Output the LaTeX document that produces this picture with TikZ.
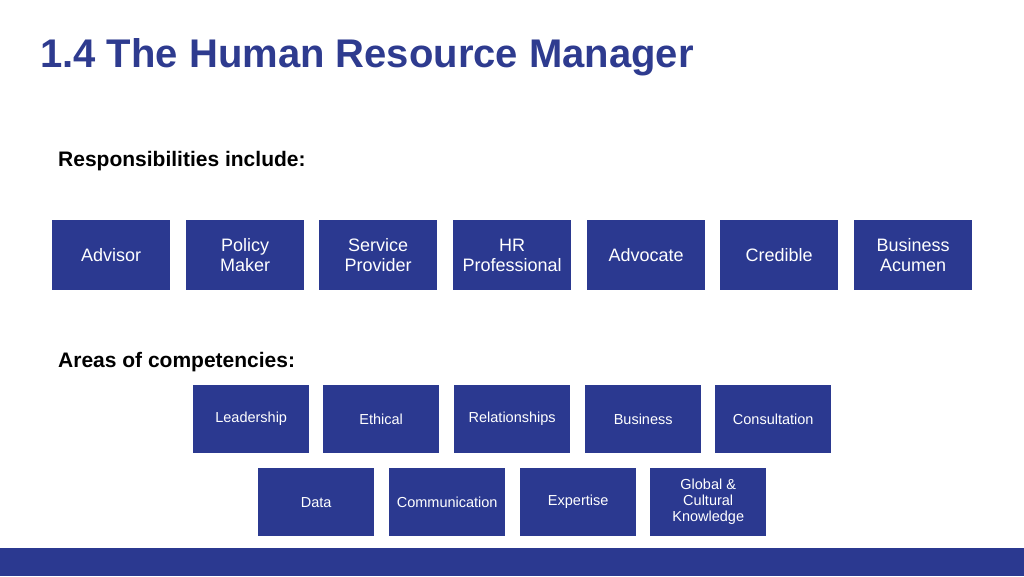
\documentclass[tikz,border=0pt]{standalone}
\usepackage{fontspec}
\setmainfont{Liberation Sans}
\usetikzlibrary{positioning}
\definecolor{hrblue}{RGB}{43,57,144}
\definecolor{titleblue}{RGB}{46,59,143}

\begin{document}
\begin{tikzpicture}[x=1pt, y=-1pt,
  rolebox/.style = {fill = hrblue, text = white, anchor = north west, minimum width = 118pt, minimum height = 70pt, inner sep = 0pt, align = center, font = \fontsize{18}{20}\selectfont},
  skillbox/.style = {fill = hrblue, text = white, anchor = north west, minimum width = 116pt, minimum height = 68pt, inner sep = 0pt, align = center, font = \fontsize{14.5}{16}\selectfont},
  heading/.style = {anchor = west, inner sep = 0pt, font = \bfseries\fontsize{21}{24}\selectfont}]
  \useasboundingbox (0,0) rectangle (1024,576);
  \node[anchor = west, inner sep = 0pt, text = titleblue, font = \bfseries\fontsize{40}{44}\selectfont] (title) at (40,57) {1.4 The Human Resource Manager};
  \node[heading] (resp) at (58,161) {Responsibilities include:};
  \node[rolebox] (advisor) at (52,220) {Advisor};
  \node[rolebox] (policy) at (186,220) {Policy\\Maker};
  \node[rolebox] (service) at (319,220) {Service\\Provider};
  \node[rolebox] (hrpro) at (453,220) {HR\\Professional};
  \node[rolebox] (advocate) at (587,220) {Advocate};
  \node[rolebox] (credible) at (720,220) {Credible};
  \node[rolebox] (acumen) at (854,220) {Business\\Acumen};
  \node[heading] (areas) at (58,362) {Areas of competencies:};
  \node[skillbox] (leader) at (193,385) {Leadership};
  \node[skillbox] (ethical) at (323,385) {Ethical};
  \node[skillbox] (relation) at (454,385) {Relationships};
  \node[skillbox] (business) at (585,385) {Business};
  \node[skillbox] (consult) at (715,385) {Consultation};
  \node[skillbox] (data) at (258,468) {Data};
  \node[skillbox] (comm) at (389,468) {Communication};
  \node[skillbox] (expert) at (520,468) {Expertise};
  \node[skillbox] (global) at (650,468) {Global \&\\Cultural\\Knowledge};
  \fill[hrblue] (0,548) rectangle (1024,576);
\end{tikzpicture}
\end{document}
